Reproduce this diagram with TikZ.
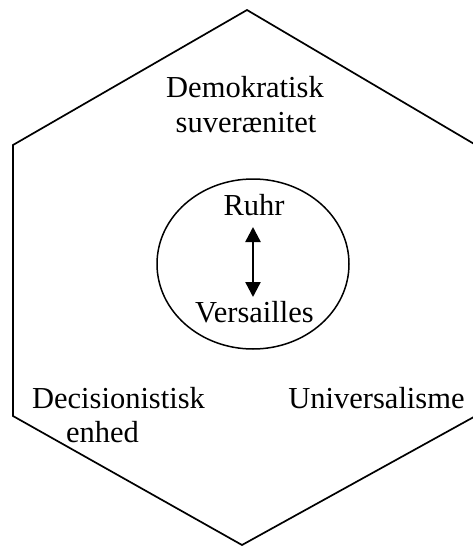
\documentclass[tikz,border=0pt]{standalone}
\usepackage{fontspec}
\setmainfont{Liberation Serif}
\usetikzlibrary{arrows.meta,shapes.geometric}
\begin{document}
\begin{tikzpicture}[x=1pt,y=-1pt,
  lbl/.style={anchor=base,inner sep=0pt,font=\fontsize{30.5}{35}\selectfont},
  edge/.style={line width=1.7pt,line join=miter}]
\path[use as bounding box] (0,0) rectangle (473,546);
\clip (0,0) rectangle (473,546);
\coordinate (t) at (247,10);
\coordinate (ul) at (13,145);
\coordinate (ll) at (13,416);
\coordinate (b) at (242,545);
\coordinate (lr) at (481,413);
\coordinate (ur) at (481,148);
\draw[edge] (t) -- (ul) -- (ll) -- (b) -- (lr) -- (ur) -- cycle;
\node[draw,ellipse,line width=1.5pt,minimum width=192pt,minimum height=170pt,inner sep=0pt] (circ) at (253,264) {};
\node[lbl] (dem1) at (245,97) {Demokratisk};
\node[lbl] (dem2) at (246,132) {suverænitet};
\node[lbl] (dec1) at (118.5,408) {Decisionistisk};
\node[lbl] (dec2) at (102.5,442) {enhed};
\node[lbl] (uni) at (376.5,408) {Universalisme};
\node[lbl] (ruhr) at (254,215) {Ruhr};
\node[lbl] (vers) at (254.5,322) {Versailles};
\coordinate (a1) at (253,227);
\coordinate (a2) at (253,297);
\draw[line width=2.4pt,{Triangle[width=15pt,length=15pt]}-{Triangle[width=15pt,length=15pt]}] (a1) -- (a2);
\end{tikzpicture}
\end{document}
